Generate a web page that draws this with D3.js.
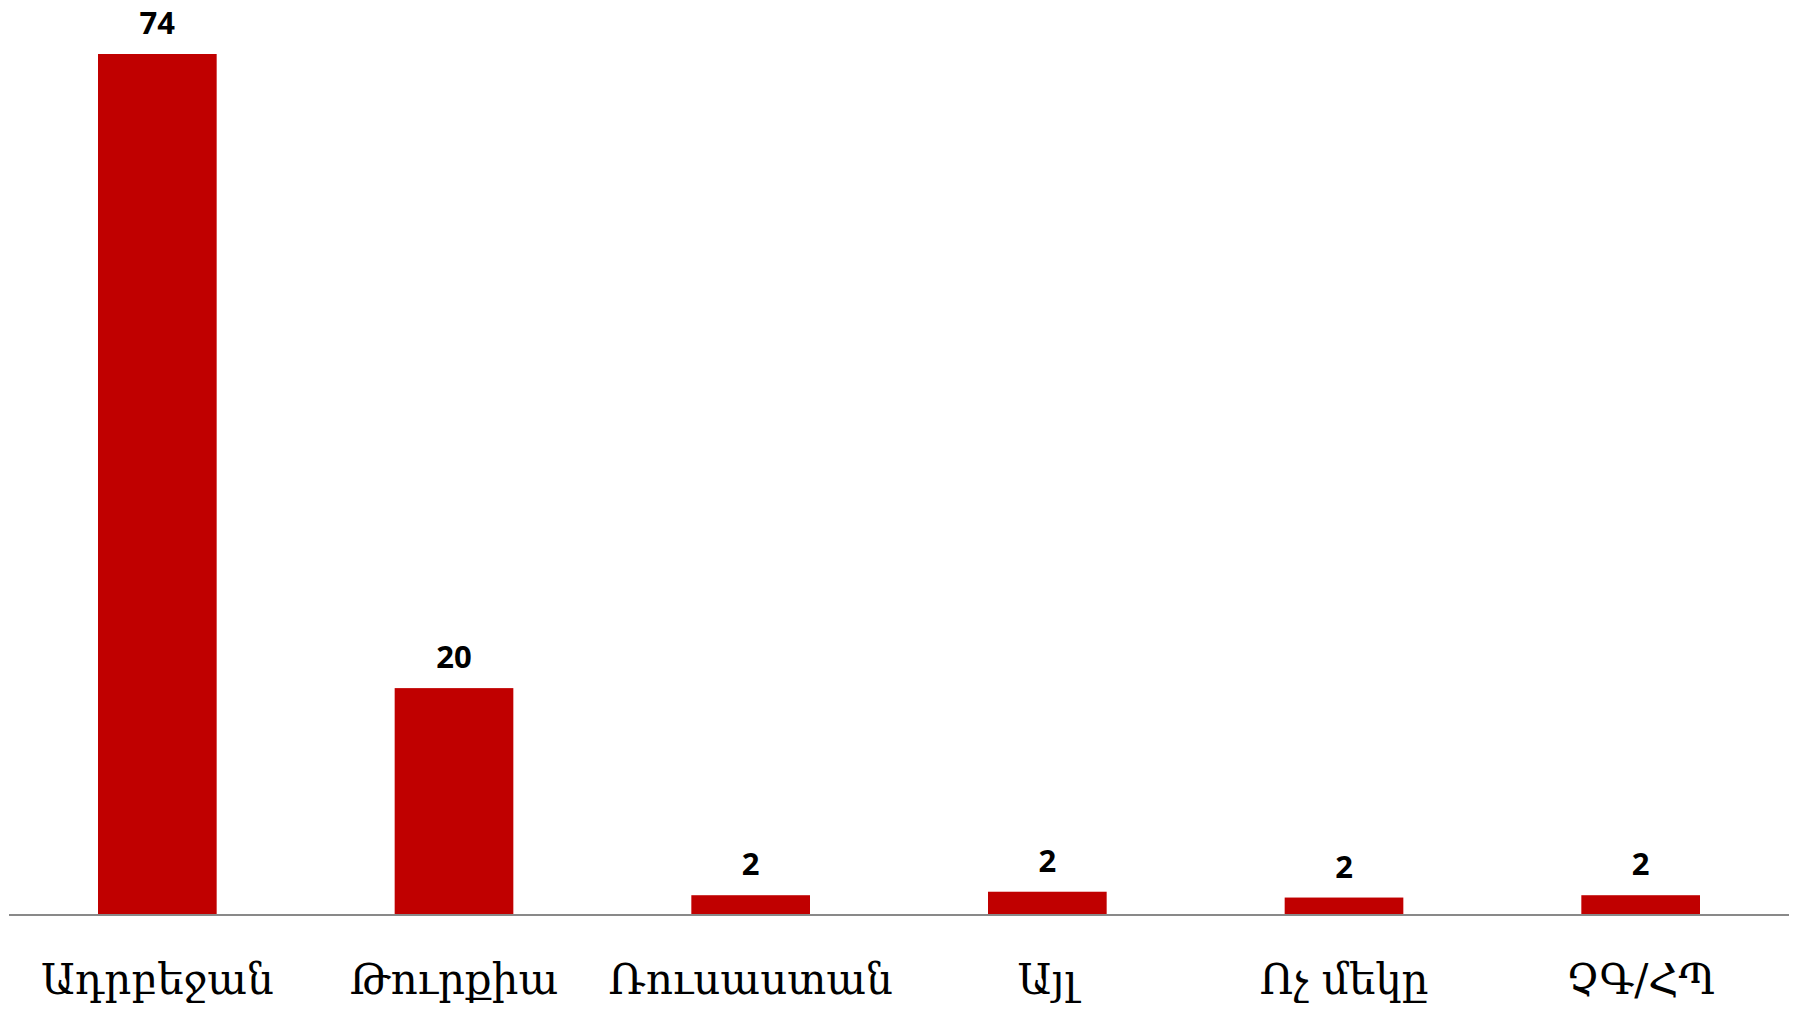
<!DOCTYPE html>
<html>
<head>
<meta charset="utf-8">
<script src="https://cdn.jsdelivr.net/npm/d3@7"></script>
<style>
html,body{margin:0;padding:0;background:#fff;}
svg{display:block;}
</style>
</head>
<body>
<script>
const categories = ["Ադրբեջան", "Թուրքիա", "Ռուսաստան", "Այլ", "Ոչ մեկը", "ՉԳ/ՀՊ"];
const values = [74, 19.5, 1.7, 2.0, 1.5, 1.7];
const valueLabels = ["74", "20", "2", "2", "2", "2"];

const W = 1798, H = 1010;
const svg = d3.select("body").append("svg").attr("width", W).attr("height", H);

const x = d3.scaleBand().domain(categories).range([9, 1789]).paddingInner(0.6).paddingOuter(0.3);
const y = d3.scaleLinear().domain([0, 74]).range([915, 54]);

svg.selectAll("rect.bar").data(values).enter().append("rect")
  .attr("class", "bar")
  .attr("x", (d, i) => x(categories[i]))
  .attr("width", x.bandwidth())
  .attr("y", d => y(d))
  .attr("height", d => y(0) - y(d))
  .attr("fill", "#C00000");

svg.selectAll("text.val").data(values).enter().append("text")
  .attr("class", "val")
  .attr("x", (d, i) => x(categories[i]) + x.bandwidth() / 2)
  .attr("y", d => y(d) - 20)
  .attr("text-anchor", "middle")
  .attr("font-family", "'Open Sans', sans-serif")
  .attr("font-weight", "bold")
  .attr("font-size", 31)
  .attr("fill", "#000")
  .text((d, i) => valueLabels[i]);

const axis = d3.axisBottom(x).tickSize(0).tickPadding(0);
const g = svg.append("g").attr("transform", `translate(0,${y(0)})`).call(axis);
g.select(".domain").attr("stroke", "#898989").attr("stroke-width", 2).attr("d", "M9,0H1789");
g.selectAll(".tick text")
  .attr("dy", null)
  .attr("y", 79)
  .attr("font-family", "'DejaVu Serif', serif")
  .attr("font-size", 42)
  .attr("fill", "#000");
</script>
</body>
</html>
